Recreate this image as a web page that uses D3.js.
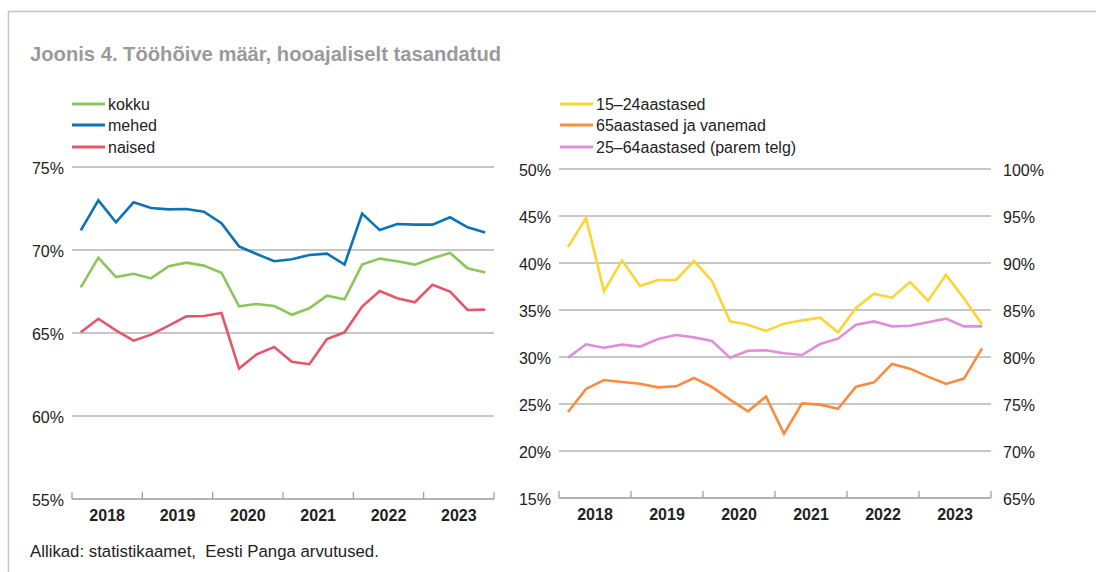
<!DOCTYPE html>
<html>
<head>
<meta charset="utf-8">
<script src="https://cdn.jsdelivr.net/npm/d3@7"></script>
<style>
    body { margin: 0; background: #fff; }
    svg text { font-family: "Liberation Sans", Arial, Helvetica, sans-serif; }
</style>
</head>
<body>
<div id="chart"></div>
<script>

// quarters 2018 Q1 .. 2023 Q4
let years = ["2018", "2019", "2020", "2021", "2022", "2023"];
let quarters = [];
years.forEach(y => { for (let q = 1; q <= 4; q++) quarters.push(y + "Q" + q); });

// left panel (%)
let kokku = [67.75, 69.54, 68.37, 68.57, 68.29, 69.02, 69.24, 69.06, 68.63, 66.61, 66.75, 66.63,
    66.10, 66.49, 67.25, 67.03, 69.12, 69.48, 69.32, 69.12, 69.50, 69.82, 68.90, 68.65];
let mehed = [71.18, 72.99, 71.67, 72.87, 72.53, 72.45, 72.47, 72.31, 71.61, 70.22, 69.76, 69.32,
    69.44, 69.70, 69.78, 69.12, 72.19, 71.20, 71.57, 71.53, 71.53, 71.97, 71.37, 71.06];
let naised = [65.04, 65.86, 65.16, 64.54, 64.90, 65.44, 66.00, 66.02, 66.20, 62.86, 63.71, 64.15,
    63.27, 63.12, 64.64, 65.04, 66.59, 67.53, 67.09, 66.85, 67.91, 67.49, 66.39, 66.41];

// right panel (%), 25-64 on the right axis
let age15_24 = [41.70, 44.79, 36.99, 40.28, 37.55, 38.19, 38.19, 40.21, 38.09, 33.79, 33.44, 32.77,
    33.55, 33.90, 34.18, 32.62, 35.21, 36.74, 36.31, 37.98, 35.99, 38.76, 36.21, 33.48];
let age65plus = [24.15, 26.60, 27.55, 27.34, 27.16, 26.77, 26.88, 27.77, 26.81, 25.46, 24.22, 25.78,
    21.84, 25.07, 24.93, 24.50, 26.84, 27.30, 29.26, 28.76, 27.91, 27.13, 27.70, 30.92];
let age25_64 = [79.93, 81.35, 80.99, 81.31, 81.10, 81.91, 82.34, 82.09, 81.70, 79.93, 80.67, 80.71,
    80.39, 80.21, 81.38, 81.95, 83.44, 83.79, 83.26, 83.33, 83.69, 84.08, 83.26, 83.26];

let leftTicks = [55, 60, 65, 70, 75];
let rightTicksL = [15, 20, 25, 30, 35, 40, 45, 50];
let rightTicksR = [65, 70, 75, 80, 85, 90, 95, 100];

let titleText = "Joonis 4. Tööhõive määr, hooajaliselt tasandatud";
let sourceText = "Allikad: statistikaamet,  Eesti Panga arvutused.";

let colors = {
    kokku: "#8cc65a", mehed: "#0b73b8", naised: "#e4566b",
    young: "#fcd535", old: "#fb8b3e", mid: "#df8fd9"
};

let width = 1096, height = 572;

let svg = d3.select("#chart").append("svg")
    .attr("width", width)
    .attr("height", height);

// frame (top + left only)
svg.append("path")
    .attr("d", "M8.5," + height + "V11.5H" + width)
    .attr("fill", "none")
    .attr("stroke", "#c4c4c4")
    .attr("stroke-width", 1.5);

svg.append("text")
    .attr("x", 30)
    .attr("y", 61)
    .attr("fill", "#9a9a9a")
    .style("font-size", "20.2px")
    .style("font-weight", "bold")
    .text(titleText);

svg.append("text")
    .attr("x", 30)
    .attr("y", 557)
    .attr("fill", "#222")
    .style("font-size", "16.8px")
    .style("white-space", "pre")
    .text(sourceText);

function drawPanel(opts) {
    let g = svg.append("g");

    let x = d3.scaleBand().domain(quarters).range([opts.x0, opts.x1]);
    let xYear = d3.scaleBand().domain(years).range([opts.x0, opts.x1]);
    let y = d3.scaleLinear().domain(opts.domain).range([opts.y1, opts.y0]);

    // gridlines
    g.append("g")
        .selectAll("line")
        .data(opts.ticks.filter(t => t !== opts.domain[0]))
        .enter().append("line")
        .attr("x1", opts.x0)
        .attr("x2", opts.x1)
        .attr("y1", d => y(d))
        .attr("y2", d => y(d))
        .attr("stroke", "#b4b4b4")
        .attr("stroke-width", 1.5);

    // left tick labels
    g.append("g")
        .selectAll("text")
        .data(opts.ticks)
        .enter().append("text")
        .attr("x", opts.x0 - 8)
        .attr("y", d => y(d) + 7)
        .attr("text-anchor", "end")
        .attr("fill", "#222")
        .style("font-size", "16px")
        .text(d => d + "%");

    // right axis labels
    if (opts.y2) {
        let y2 = d3.scaleLinear().domain(opts.domain2).range([opts.y1, opts.y0]);
        opts.y2 = y2;
        g.append("g")
            .selectAll("text")
            .data(opts.ticks2)
            .enter().append("text")
            .attr("x", opts.x1 + 12)
            .attr("y", d => y2(d) + 7)
            .attr("fill", "#222")
            .style("font-size", "16px")
            .text(d => d + "%");
    }

    // x axis
    let xAxis = d3.axisBottom(xYear).tickSize(0).tickPadding(11);
    let ax = g.append("g")
        .attr("transform", `translate(0, ${opts.y1})`)
        .call(xAxis);
    ax.select(".domain").remove();
    ax.selectAll("text")
        .attr("fill", "#222")
        .style("font-size", "16px")
        .style("font-weight", "bold")
        .style("font-family", "'Liberation Sans', Arial, sans-serif");

    g.append("line")
        .attr("x1", opts.x0)
        .attr("x2", opts.x1)
        .attr("y1", opts.y1)
        .attr("y2", opts.y1)
        .attr("stroke", "#9a9a9a")
        .attr("stroke-width", 1.5);

    let bounds = years.map(d => xYear(d)).concat([opts.x1]);
    g.append("g")
        .selectAll("line")
        .data(bounds)
        .enter().append("line")
        .attr("x1", d => d)
        .attr("x2", d => d)
        .attr("y1", opts.y1)
        .attr("y2", opts.y1 - 7)
        .attr("stroke", "#9a9a9a")
        .attr("stroke-width", 1.2);

    // lines
    opts.series.forEach(s => {
        let ys = s.right ? opts.y2 : y;
        let line = d3.line()
            .x((d, i) => x(quarters[i]) + x.bandwidth() / 2)
            .y(d => ys(d));
        g.append("path")
            .datum(s.values)
            .attr("d", line)
            .attr("fill", "none")
            .attr("stroke", s.color)
            .attr("stroke-width", 2.6)
            .attr("stroke-linejoin", "miter");
    });

    // legend
    let legend = g.append("g");
    opts.series.forEach((s, i) => {
        let ly = opts.legendY[i];
        legend.append("line")
            .attr("x1", opts.legendX)
            .attr("x2", opts.legendX + 33)
            .attr("y1", ly)
            .attr("y2", ly)
            .attr("stroke", s.color)
            .attr("stroke-width", 3);
        legend.append("text")
            .attr("x", opts.legendX + 36)
            .attr("y", ly + 6)
            .attr("fill", "#222")
            .style("font-size", "16px")
            .text(s.name);
    });
}

drawPanel({
    x0: 72, x1: 494, y0: 167, y1: 499,
    domain: [55, 75], ticks: leftTicks,
    legendX: 72, legendY: [104, 125, 147],
    series: [
        {name: "kokku", values: kokku, color: colors.kokku},
        {name: "mehed", values: mehed, color: colors.mehed},
        {name: "naised", values: naised, color: colors.naised}
    ]
});

drawPanel({
    x0: 559, x1: 991, y0: 169, y1: 498,
    domain: [15, 50], ticks: rightTicksL,
    y2: true, domain2: [65, 100], ticks2: rightTicksR,
    legendX: 560, legendY: [104, 125, 147],
    series: [
        {name: "15–24aastased", values: age15_24, color: colors.young},
        {name: "65aastased ja vanemad", values: age65plus, color: colors.old},
        {name: "25–64aastased (parem telg)", values: age25_64, color: colors.mid, right: true}
    ]
});

</script>
</body>
</html>
